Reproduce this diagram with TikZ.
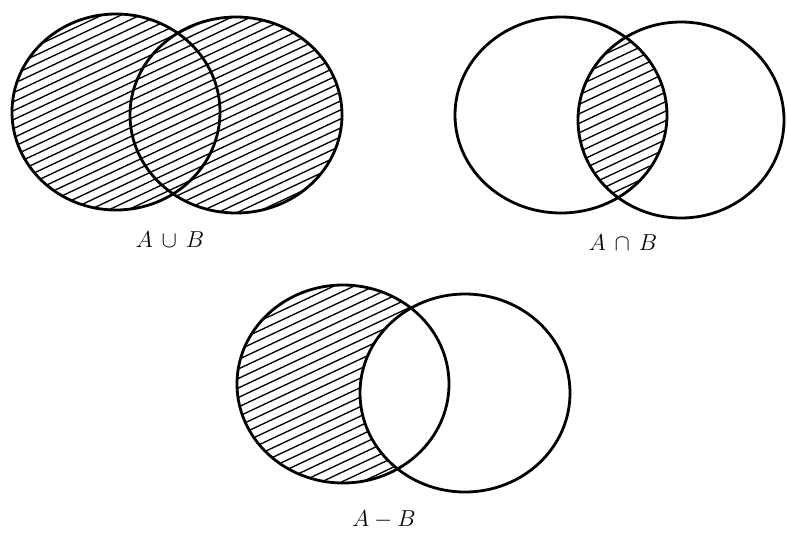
\documentclass[tikz,border=0pt]{standalone}
\usepackage{amsmath}
\begin{document}
\begin{tikzpicture}[x=0.75pt,y=-0.75pt,
  outline/.style={line width=2.1pt,black},
  hatch/.style={line width=1.0pt,black},
  setlabel/.style={font=\fontsize{17}{19}\selectfont,inner sep=0pt}]
\useasboundingbox (0,0) rectangle (787,532);
\fill[white] (0,0) rectangle (787,532);

% ---------- A union B ----------
\begin{scope}
  \clip (116,112) ellipse [x radius=104, y radius=98]
        (236,115) ellipse [x radius=106, y radius=98];
  \foreach \c in {-450,-441,...,900}
    \draw[hatch] (0,\c) -- (800,\c-376);
\end{scope}
\draw[outline] (116,112) ellipse [x radius=104, y radius=98];
\draw[outline] (236,115) ellipse [x radius=106, y radius=98];
\node[setlabel] (lu) at (170,240) {$A\,\cup\,B$};

% ---------- A intersect B ----------
\begin{scope}
  \clip (561,115) ellipse [x radius=106, y radius=98];
  \clip (681,120) ellipse [x radius=103, y radius=98];
  \foreach \c in {-450,-440.5,...,900}
    \draw[hatch] (0,\c) -- (800,\c-376);
\end{scope}
\draw[outline] (561,115) ellipse [x radius=106, y radius=98];
\draw[outline] (681,120) ellipse [x radius=103, y radius=98];
\node[setlabel] (li) at (623,243) {$A\,\cap\,B$};

% ---------- A minus B ----------
\begin{scope}
  \clip (343,384) ellipse [x radius=106, y radius=99];
  \foreach \c in {-450,-440.5,...,1100}
    \draw[hatch] (0,\c) -- (800,\c-376);
  \fill[white] (465,393) ellipse [x radius=105, y radius=99];
\end{scope}
\draw[outline] (343,384) ellipse [x radius=106, y radius=99];
\draw[outline] (465,393) ellipse [x radius=105, y radius=99];
\node[setlabel] (ld) at (384,520) {$A-B$};
\end{tikzpicture}
\end{document}
